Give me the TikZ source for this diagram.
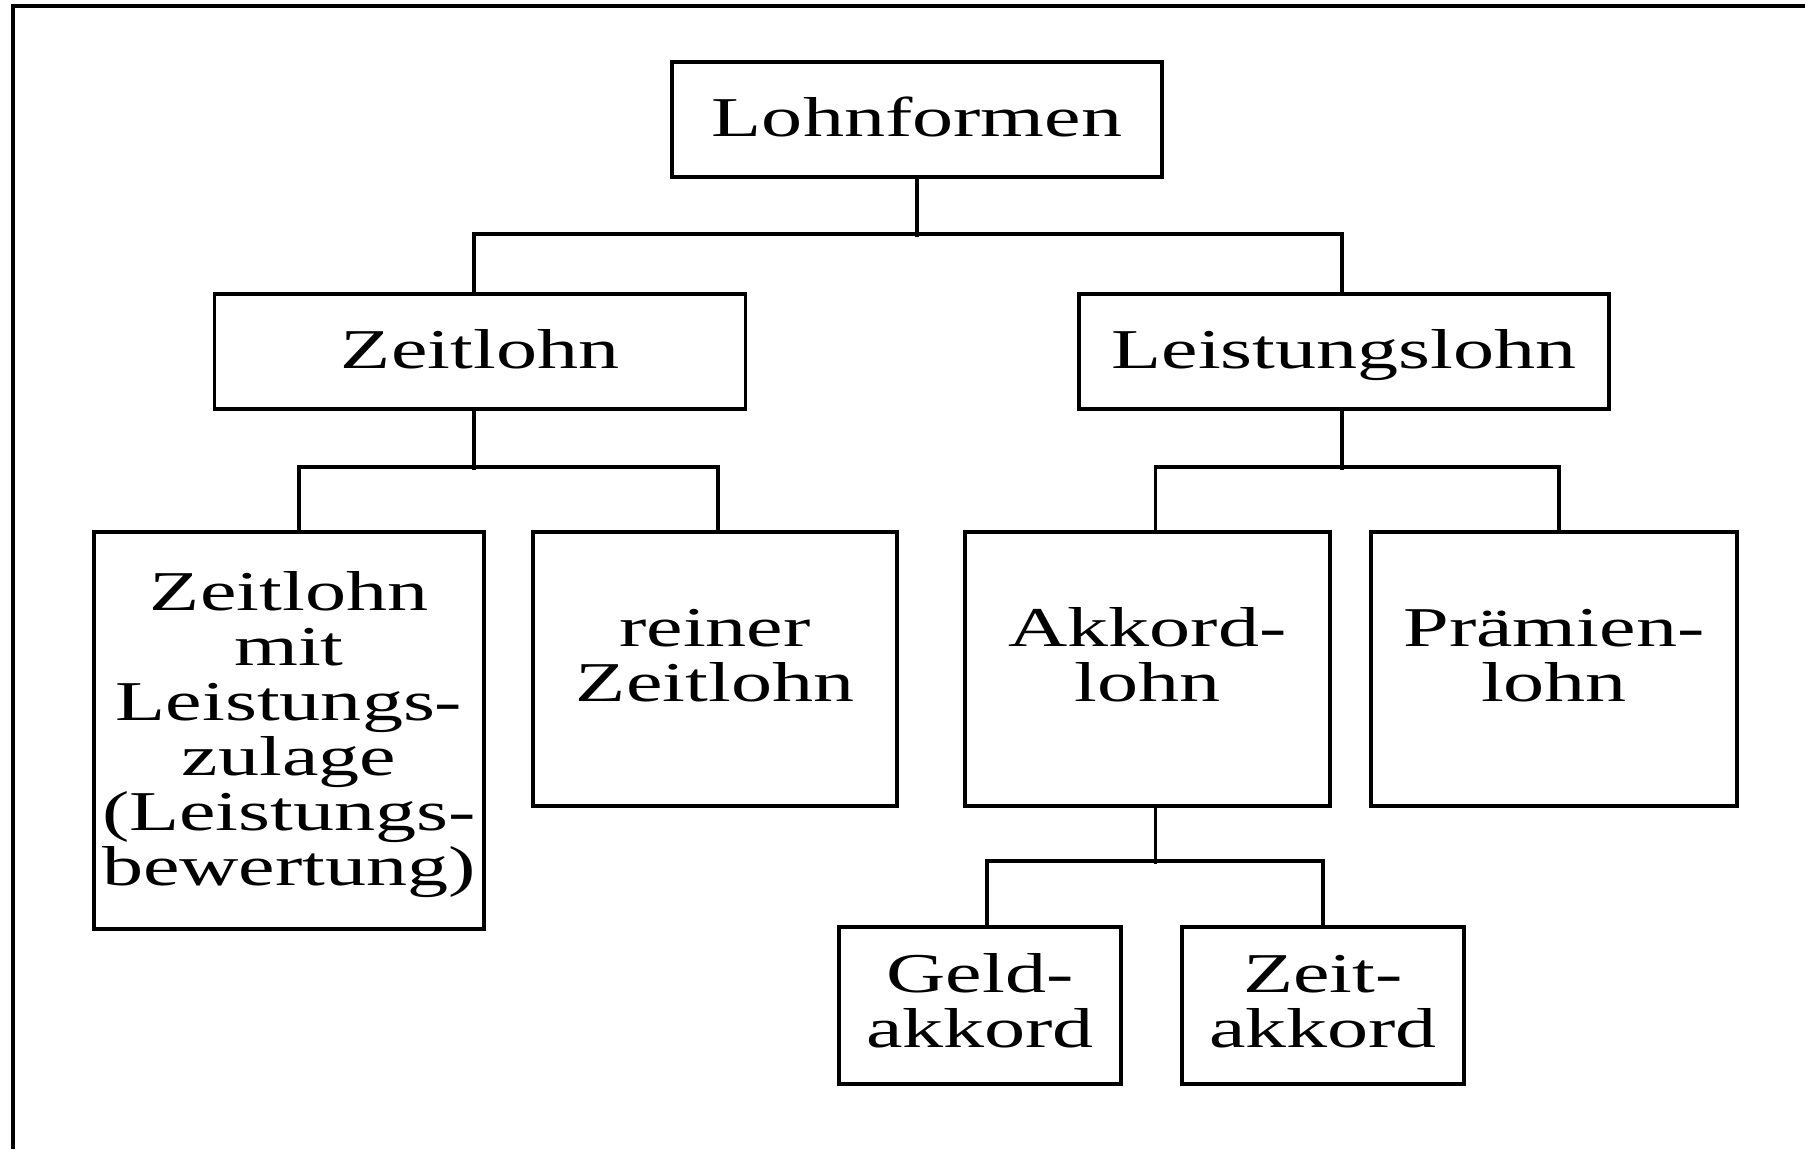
\documentclass[tikz,border=0pt]{standalone}
\usepackage{fontspec}
\setmainfont{Liberation Serif}[FakeStretch=1.46]

\begin{document}
\begin{tikzpicture}[
    box/.style={rectangle, draw, line width=1pt, align=center, inner sep=0pt,
        font=\fontsize{16}{15.7}\selectfont},
    head/.style={box, text width=#1, text height=0.74cm, text depth=0.41cm},
    tall/.style={box, text width=#1, text height=1.14cm, text depth=1.60cm},
    leaf/.style={box, text width=2.82cm, text height=0.65cm, text depth=0.92cm},
    link/.style={line width=1pt}
]
\useasboundingbox (0,0) rectangle (18.05,-11.49);
\draw[line width=1.1pt] (0.13,-11.49) |- (18.05,-0.06);

\node[head=4.90cm] (lohn) at (9.17,-1.195) {Lohnformen};
\node[head=5.31cm] (zeit) at (4.80,-3.515) {Zeitlohn};
\node[head=5.30cm] (leist) at (13.44,-3.515) {Leistungslohn};
\node[box, text width=3.90cm, text height=0.78cm, text depth=3.19cm] (zmit) at (2.89,-7.305)
    {Zeitlohn\\mit\\Leistungs-\\zulage\\(Leistungs-\\bewertung)};
\node[tall=3.64cm] (rein) at (7.15,-6.69) {reiner\\Zeitlohn};
\node[tall=3.65cm] (akk) at (11.475,-6.69) {Akkord-\\lohn};
\node[tall=3.66cm] (praem) at (15.54,-6.69) {Prämien-\\lohn};
\node[leaf] (geld) at (9.80,-10.055) {Geld-\\akkord};
\node[leaf] (zakk) at (13.23,-10.055) {Zeit-\\akkord};

\draw[link] (lohn.south) -- ++(0,-0.58);
\draw[link] ([xshift=-0.06cm]zeit.north) -- ++(0,0.58) -| ([xshift=-0.02cm]leist.north);
\draw[link] ([xshift=-0.06cm]zeit.south) -- ++(0,-0.59);
\draw[link] ([xshift=0.10cm]zmit.north) -- ++(0,0.63) -| ([xshift=0.03cm]rein.north);
\draw[link] ([xshift=-0.02cm]leist.south) -- ++(0,-0.59);
\draw[link] ([xshift=0.08cm]akk.north) -- ++(0,0.63) -| ([xshift=0.05cm]praem.north);
\draw[link] ([xshift=0.08cm]akk.south) -- ++(0,-0.56);
\draw[link] ([xshift=0.07cm]geld.north) -- ++(0,0.64) -| (zakk.north);
\end{tikzpicture}
\end{document}
